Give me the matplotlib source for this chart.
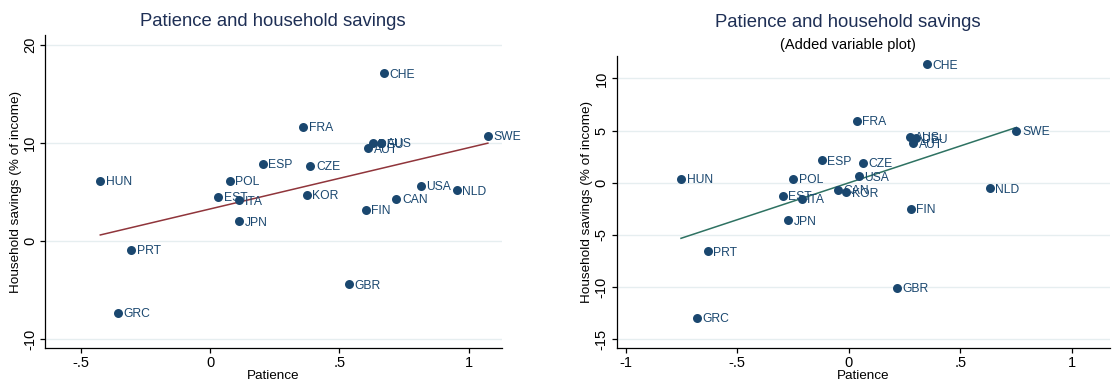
import numpy as np
import matplotlib
matplotlib.use('Agg')
import matplotlib.pyplot as plt

plt.rcParams['font.family'] = ['Liberation Sans', 'DejaVu Sans']

# country codes, same order in both panels
countries = ['CHE', 'FRA', 'SWE', 'AUS', 'DEU', 'AUT', 'ESP', 'CZE', 'HUN', 'POL', 'KOR',
             'EST', 'ITA', 'USA', 'NLD', 'CAN', 'FIN', 'JPN', 'PRT', 'GBR', 'GRC']

# raw patience vs household savings (% of income)
patience = [0.671, 0.360, 1.075, 0.661, 0.629, 0.611, 0.203, 0.388, -0.426, 0.075, 0.373,
            0.031, 0.112, 0.815, 0.955, 0.721, 0.602, 0.112, -0.307, 0.537, -0.357]
savings = [17.1, 11.66, 10.7, 10.03, 9.97, 9.46, 7.89, 7.65, 6.12, 6.12, 4.69,
           4.49, 4.15, 5.61, 5.17, 4.32, 3.19, 2.01, -0.92, -4.42, -7.31]

# added variable plot: residualised values
patience_av = [0.349, 0.036, 0.751, 0.273, 0.303, 0.288, -0.122, 0.063, -0.752, -0.249, -0.012,
               -0.296, -0.212, 0.045, 0.631, -0.048, 0.278, -0.272, -0.633, 0.214, -0.682]
savings_av = [11.34, 5.94, 4.98, 4.41, 4.25, 3.77, 2.17, 1.92, 0.38, 0.38, -0.92,
              -1.24, -1.53, 0.64, -0.54, -0.67, -2.52, -3.60, -6.57, -10.06, -12.93]

navy = '#1a476f'
title_col = '#1e2f55'
grid_col = '#e6eef0'


def panel(ax, x, y, line_col, xticks, xlabels, yticks, ylabels, xlim, ylim):
    x = np.array(x)
    y = np.array(y)
    for t in yticks:
        ax.axhline(t, color=grid_col, lw=1.0, zorder=0)
    # least-squares fit over the observed range
    b, a = np.polyfit(x, y, 1)
    xs = np.array([x.min(), x.max()])
    ax.plot(xs, a + b * xs, color=line_col, lw=1.1, zorder=2)
    ax.scatter(x, y, s=42, color=navy, zorder=3, linewidths=0)
    for name, xi, yi in zip(countries, x, y):
        ax.annotate(name, (xi, yi), xytext=(4, -1), textcoords='offset points',
                    ha='left', va='center', fontsize=8.7, color=navy, zorder=4)
    ax.set_xlim(xlim)
    ax.set_ylim(ylim)
    ax.set_xticks(xticks)
    ax.set_xticklabels(xlabels)
    ax.set_yticks(yticks)
    ax.set_yticklabels(ylabels, rotation=90, va='center')
    ax.spines['top'].set_visible(False)
    ax.spines['right'].set_visible(False)
    ax.spines['left'].set_linewidth(0.9)
    ax.spines['bottom'].set_linewidth(0.9)
    ax.tick_params(direction='out', length=3.8, width=0.9, labelsize=10.5, pad=2)
    ax.set_xlabel('Patience', fontsize=9.7, labelpad=0)
    ax.set_ylabel('Household savings (% of income)', fontsize=9.7, labelpad=1)


fig = plt.figure(figsize=(11.12, 3.85), dpi=100)
ax1 = fig.add_axes([0.0405, 0.0961, 0.411, 0.813])
ax2 = fig.add_axes([0.5546, 0.0953, 0.4436, 0.759])

panel(ax1, patience, savings, '#90353b',
      [-0.5, 0, 0.5, 1], ['-.5', '0', '.5', '1'],
      [-10, 0, 10, 20], ['-10', '0', '10', '20'],
      (-0.64, 1.13), (-10.9, 21.0))
panel(ax2, patience_av, savings_av, '#2e7262',
      [-1, -0.5, 0, 0.5, 1], ['-1', '-.5', '0', '.5', '1'],
      [-15, -10, -5, 0, 5, 10], ['-15', '-10', '-5', '0', '5', '10'],
      (-1.04, 1.17), (-15.86, 12.14))

fig.text(0.2455, 0.943, 'Patience and household savings', ha='center', va='center',
         fontsize=13.3, color=title_col)
fig.text(0.7626, 0.941, 'Patience and household savings', ha='center', va='center',
         fontsize=13.3, color=title_col)
fig.text(0.7626, 0.883, '(Added variable plot)', ha='center', va='center',
         fontsize=10.5, color='black')

fig.savefig('out.png', dpi=100)
